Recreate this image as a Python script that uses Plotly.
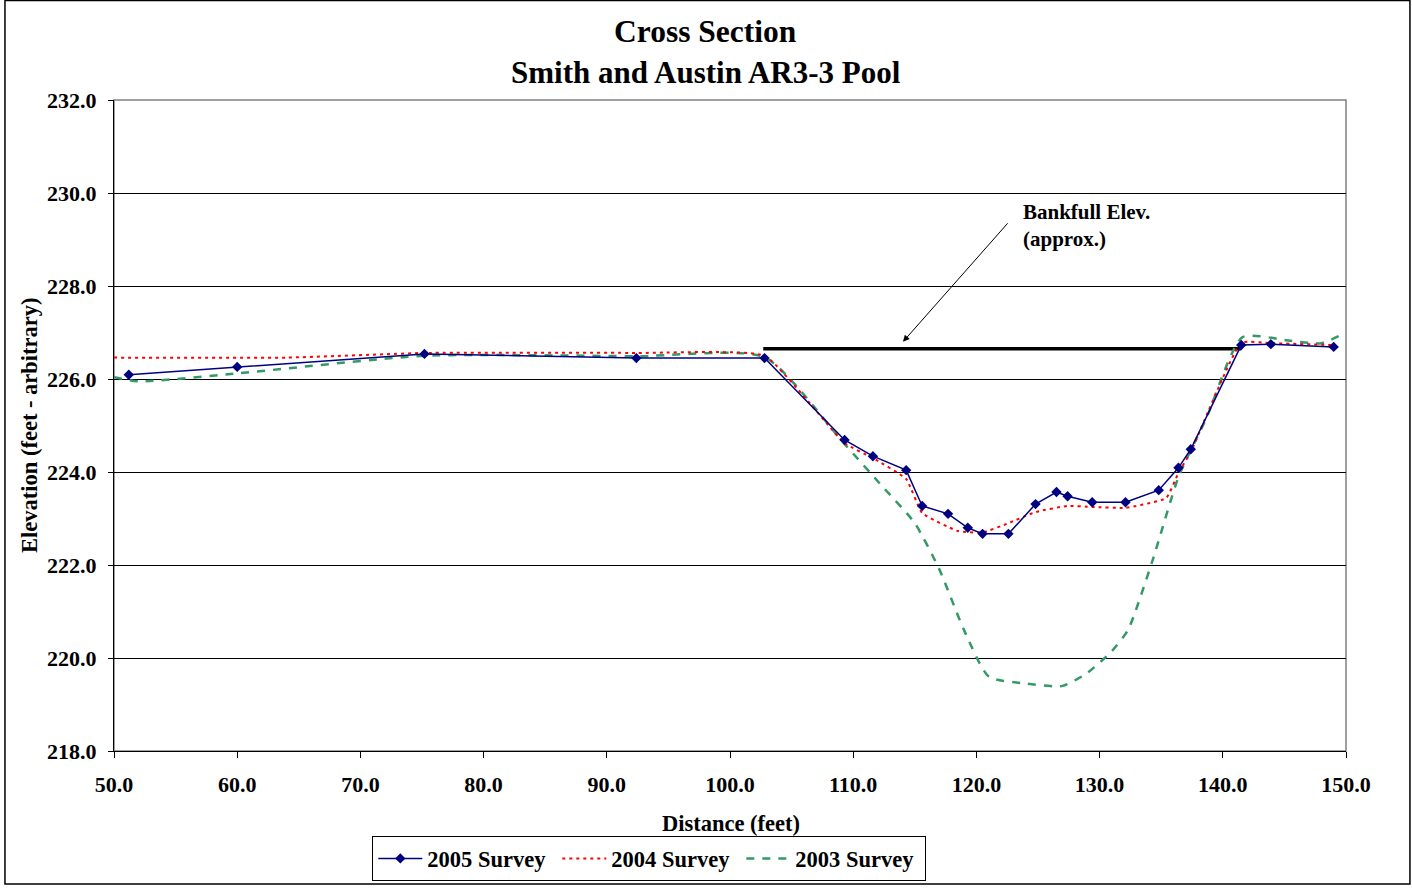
import plotly.graph_objects as go

# ---- data ----
x_2005 = [51.2, 60.0, 75.2, 92.4, 102.8, 109.3, 111.6, 114.3, 115.6, 117.7, 119.3, 120.5,
          122.6, 124.8, 126.5, 127.4, 129.4, 132.1, 134.8, 136.4, 137.4, 141.5, 143.9, 149.0]
y_2005 = [226.09, 226.26, 226.54, 226.45, 226.45, 224.69, 224.34, 224.04, 223.27, 223.10, 222.80, 222.67,
          222.67, 223.31, 223.57, 223.48, 223.35, 223.35, 223.61, 224.09, 224.49, 226.73, 226.75, 226.69]

x_2004 = [50.0, 64.0, 75.2, 92.4, 102.8, 109.3, 111.6, 114.3, 115.6, 118.5, 120.5,
          122.6, 124.8, 127.4, 129.4, 132.1, 135.4, 136.4, 137.4, 141.5, 143.9, 149.0]
y_2004 = [226.46, 226.46, 226.56, 226.56, 226.50, 224.62, 224.30, 223.85, 223.12, 222.73, 222.70,
          222.90, 223.14, 223.27, 223.25, 223.23, 223.44, 223.98, 224.43, 226.78, 226.77, 226.73]

x_2003 = [50.0, 52.0, 60.0, 75.2, 92.4, 102.8, 109.3, 112.4, 115.0, 117.0, 119.0, 121.0,
          124.0, 127.0, 129.0, 131.0, 132.3, 134.3, 136.4, 138.7, 141.6, 145.5, 148.0, 150.0]
y_2003 = [226.04, 225.95, 226.12, 226.50, 226.49, 226.47, 224.60, 223.68, 222.90, 221.90, 220.60, 219.60,
          219.45, 219.40, 219.68, 220.15, 220.60, 222.10, 223.89, 225.18, 226.90, 226.82, 226.77, 227.00]

bankfull_x = [102.7, 141.5]
bankfull_y = [226.65, 226.65]

x_ticks = [50, 60, 70, 80, 90, 100, 110, 120, 130, 140, 150]
y_ticks = [218, 220, 222, 224, 226, 228, 230, 232]

FONT = "Liberation Serif"

fig = go.Figure()
fig.add_trace(go.Scatter(x=bankfull_x, y=bankfull_y, mode="lines",
                         line=dict(color="black", width=3.5), showlegend=False, hoverinfo="skip"))
fig.add_trace(go.Scatter(x=x_2003, y=y_2003, mode="lines", name="2003 Survey",
                         line=dict(color="#339966", width=2.5, dash="8px,8px", shape="spline", smoothing=0.6)))
fig.add_trace(go.Scatter(x=x_2004, y=y_2004, mode="lines", name="2004 Survey",
                         line=dict(color="#FF0000", width=2, dash="3px,4px", shape="spline", smoothing=0.4)))
fig.add_trace(go.Scatter(x=x_2005, y=y_2005, mode="lines+markers", name="2005 Survey",
                         line=dict(color="#000080", width=1.5),
                         marker=dict(symbol="diamond", size=8, color="#000080")))

fig.update_layout(
    width=1412, height=888,
    margin=dict(l=114, r=66, t=100, b=137, autoexpand=False),
    paper_bgcolor="white", plot_bgcolor="white",
    font=dict(family=FONT, size=20, color="black"),
    showlegend=True,
    legend=dict(orientation="h", x=0.4345, y=-0.131, xanchor="center", yanchor="top",
                bordercolor="black", borderwidth=1, traceorder="reversed",
                font=dict(family=FONT, size=22.5, color="black", weight="bold"),
                itemwidth=44, entrywidth=125, entrywidthmode="pixels"),
    xaxis=dict(range=[50, 150], tickvals=x_ticks, ticktext=[f"{v:.1f}" for v in x_ticks],
               showgrid=False, zeroline=False, showline=True, linecolor="black", linewidth=1,
               ticks="outside", ticklen=6, tickcolor="black", ticklabelstandoff=8,
               tickfont=dict(family=FONT, size=22, weight="bold")),
    yaxis=dict(range=[218, 232], tickvals=y_ticks, ticktext=[f"{v:.1f}" for v in y_ticks],
               showgrid=True, gridcolor="black", gridwidth=1, zeroline=False,
               showline=True, linecolor="black", linewidth=1,
               ticks="outside", ticklen=5, tickcolor="black", ticklabelstandoff=7,
               tickfont=dict(family=FONT, size=22, weight="bold")),
    shapes=[
        dict(type="rect", xref="paper", yref="paper", x0=0, x1=1, y0=0, y1=1,
             line=dict(color="#808080", width=1.5), layer="below"),
        dict(type="rect", xref="paper", yref="paper", x0=-0.0885, x1=1.0519, y0=-0.2043, y1=1.1528,
             line=dict(color="black", width=1.5)),
    ],
    annotations=[
        dict(text="<b>Cross Section</b>", xref="paper", yref="paper", x=0.4805, y=1.1045,
             showarrow=False, xanchor="center", yanchor="middle", font=dict(size=31.5)),
        dict(text="<b>Smith and Austin AR3-3 Pool</b>", xref="paper", yref="paper", x=0.4805, y=1.043,
             showarrow=False, xanchor="center", yanchor="middle", font=dict(size=31)),
        dict(text="<b>Distance (feet)</b>", xref="paper", yref="paper", x=0.5008, y=-0.112,
             showarrow=False, xanchor="center", yanchor="middle", font=dict(size=22.5)),
        dict(text="<b>Elevation (feet - arbitrary)</b>", xref="paper", yref="paper", x=-0.0682, y=0.5008,
             showarrow=False, xanchor="center", yanchor="middle", textangle=-90, font=dict(size=22.5)),
        dict(text="<b>Bankfull Elev.<br>(approx.)</b>", x=123.62, y=229.9, xref="x", yref="y",
             showarrow=False, xanchor="left", yanchor="top", align="left", font=dict(size=21)),
        dict(text="", x=114.04, y=226.8, xref="x", yref="y", showarrow=True,
             ax=106, ay=-120, arrowhead=2, arrowsize=1.3, arrowwidth=1, arrowcolor="black"),
    ],
)

fig.write_html("out.html", config={"displayModeBar": False},
               post_script="document.body.style.margin='0';document.body.style.overflow='hidden';")
